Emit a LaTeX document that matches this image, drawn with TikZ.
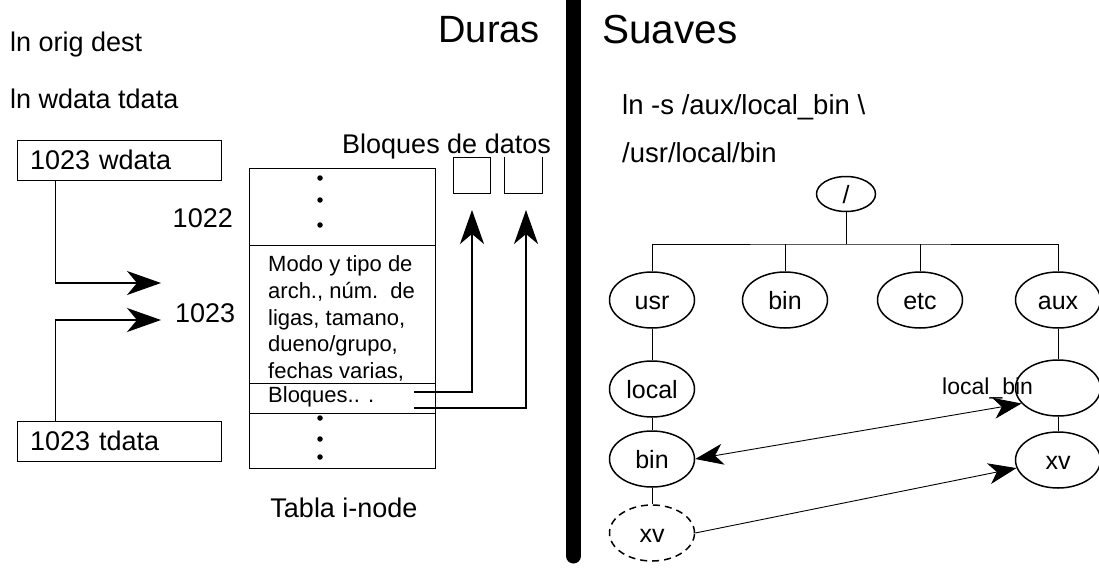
\documentclass[tikz,border=0pt]{standalone}
\usepackage{fontspec}
\setmainfont{Liberation Sans}
\usetikzlibrary{arrows.meta,shapes.geometric}
\tikzset{linktip/.tip={Stealth[length=28pt,width=21pt,inset=8pt]}}
\begin{document}
\begin{tikzpicture}[x=1pt,y=-1pt,
  txt/.style={inner sep=0pt, font=\fontsize{27}{32}\selectfont},
  rtxt/.style={inner sep=0pt, font=\fontsize{27.5}{32}\selectfont},
  ttl/.style={inner sep=0pt, font=\fontsize{38}{45}\selectfont},
  small/.style={inner sep=0pt, font=\fontsize{22}{26.8}\selectfont},
  namebox/.style={draw, line width=0.8pt, minimum height=40pt, text width=178pt, inner xsep=13pt, inner ysep=0pt, align=left, font=\fontsize{27}{32}\selectfont},
  rowbox/.style={draw, line width=0.8pt, minimum width=186pt, inner sep=0pt},
  blkbox/.style={minimum width=37pt, minimum height=36pt, inner sep=0pt},
  dot/.style={circle, fill, inner sep=0pt, minimum size=5.5pt},
  bigarrow/.style={line width=1.4pt, -{Stealth[length=34pt,width=24pt,inset=10pt]}},
  thinline/.style={line width=0.9pt},
  dir/.style={ellipse, draw, line width=1.5pt, minimum width=85pt, minimum height=56pt, inner sep=0pt, text height=19pt, text depth=0pt, font=\fontsize{25}{29}\selectfont},
  tree/.style={line width=1pt}
]
\useasboundingbox (0,0) rectangle (1099,570);
\fill[white] (0,0) rectangle (1099,570);

% ---------- left: Duras ----------
\node[ttl, anchor=east] (duras) at (540,30) {Duras};
\node[txt, anchor=west] (cmd1) at (10,45) {ln orig dest};
\node[txt, anchor=west] (cmd2) at (10,99) {ln wdata tdata};

\node[namebox] (wdata) at (119,160) {1023 wdata};
\node[namebox] (tdata) at (119,441) {1023 tdata};

\coordinate (a1) at (161,283);
\coordinate (a2) at (161,320);
\draw[bigarrow] (wdata.south west) ++(39,0) |- (a1);
\draw[bigarrow] (tdata.north west) ++(39,0) |- (a2);

\node[txt, anchor=east] (n1022) at (233,218) {1022};
\node[txt, anchor=west] (n1023) at (175,313) {1023};

% i-node table
\node[rowbox, minimum height=77pt] (row1) at (342,206.5) {};
\node[rowbox, minimum height=138pt] (row2) at (342,314) {};
\node[rowbox, minimum height=30pt] (row3) at (342,398) {};
\node[rowbox, minimum height=55pt] (row4) at (342,440.5) {};

\node[dot] (d1) at (320,178) {};
\node[dot] (d2) at (320,200) {};
\node[dot] (d3) at (320,225) {};
\node[dot] (d4) at (320,418) {};
\node[dot] (d5) at (320,439) {};
\node[dot] (d6) at (320,457) {};

\node[small, anchor=west, align=left] (attrs) at (268,318.5)
  {Modo y tipo de\\arch., núm.\ \ de\\ligas, tamano,\\dueno/grupo,\\fechas varias,};
\node[small, anchor=west] (bloq) at (268,397) {Bloques.. .};

\node[txt] (tabla) at (344,508) {Tabla i-node};

% data blocks
\node[txt, anchor=west] (bdatos) at (342,147) {Bloques de datos};
\node[blkbox, draw, line width=0.8pt] (blk1) at (471.5,175) {};
\node[blkbox] (blk2) at (523.5,175) {};
\draw[line width=0.8pt] (blk2.north west) -- (blk2.south west) -- (blk2.south east) -- (blk2.north east);

\coordinate (b1) at (414,392);
\coordinate (b2) at (414,408);
\coordinate (t1) at (472,210);
\coordinate (t2) at (526,210);
\draw[bigarrow] (b1) -| (t1);
\draw[bigarrow] (b2) -| (t2);

% ---------- divider ----------
\draw[line width=15pt, line cap=round] (573.5,-20) -- (573.5,556);

% ---------- right: Suaves ----------
\node[ttl, anchor=west, font=\fontsize{40.5}{47}\selectfont] (suaves) at (602,30) {Suaves};
\node[rtxt, anchor=west] (cmd3) at (622,107) {ln -s /aux/local\_bin \textbackslash};
\node[rtxt, anchor=west] (cmd4) at (622,153) {/usr/local/bin};

\node[dir, minimum width=59pt, minimum height=35pt, text height=18pt] (root) at (846,194) {/};
\coordinate (hb) at (846,244);

\node[dir] (usr) at (652,300) {usr};
\node[dir] (bin) at (785,300) {bin};
\node[dir] (etc) at (920,300) {etc};
\node[dir] (aux) at (1058,300) {aux};

\node[dir] (local) at (652,389) {local};
\node[dir] (lbin) at (652,459) {bin};
\node[dir, dashed, dash pattern=on 7pt off 5pt] (xvl) at (652,533) {xv};

\node[dir] (localbin) at (1058,388) {};
\node[dir] (xvr) at (1058,460) {xv};
\node[inner sep=0pt, anchor=west, font=\fontsize{23}{27}\selectfont] (lblabel) at (942,388) {local\_bin};

\draw[tree] (root.south) -- (hb);
\draw[tree] (usr.north) |- (hb) -| (aux.north);
\draw[tree] (bin.north) -- (bin.north |- hb);
\draw[tree] (etc.north) -- (etc.north |- hb);
\draw[tree] (usr.south) -- (local.north);
\draw[tree] (local.south) -- (lbin.north);
\draw[tree] (lbin.south) -- (xvl.north);
\draw[tree] (aux.south) -- (localbin.north);
\draw[tree] (localbin.south) -- (xvr.north);

\draw[thinline, {linktip}-{linktip}] (lbin.east) -- (localbin.203);
\draw[thinline, -{linktip}] (xvl.east) -- (xvr.191);
\end{tikzpicture}
\end{document}
